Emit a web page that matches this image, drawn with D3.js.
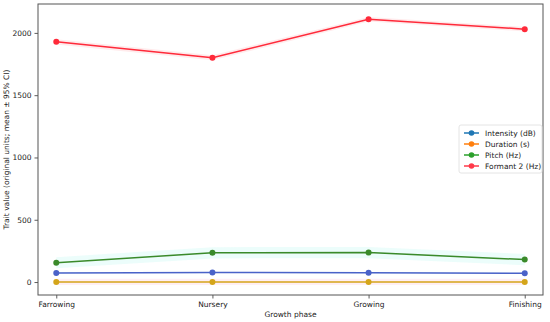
<!DOCTYPE html>
<html>
<head>
<meta charset="utf-8">
<script src="https://unpkg.com/d3@7/dist/d3.min.js"></script>
<style>
  body { margin: 0; background: #fff; }
  svg { font-family: "DejaVu Sans", sans-serif; }
</style>
</head>
<body>
<div id="chart"></div>
<script>
const phases = ["Farrowing", "Nursery", "Growing", "Finishing"];
const intensity = [72, 76, 75, 70];
const duration = [1, 1, 1, 1];
const pitch = [155, 235, 237, 180];
const formant2 = [1928, 1800, 2110, 2030];
const intensityCI = [4, 4, 4, 4];
const durationCI = [25, 25, 25, 25];
const pitchCI = [45, 45, 45, 45];
const formant2CI = [22, 20, 18, 18];
const yTicks = [0, 500, 1000, 1500, 2000];

const series = [
  {name: "Intensity (dB)", values: intensity, ci: intensityCI, line: "#4a62c8", legend: "#1f77b4", band: "#7fd6f0"},
  {name: "Duration (s)", values: duration, ci: durationCI, line: "#d4a51a", legend: "#ff7f0e", band: "#ffb0c8"},
  {name: "Pitch (Hz)", values: pitch, ci: pitchCI, line: "#3a8a2a", legend: "#2ca02c", band: "#9ff5ea"},
  {name: "Formant 2 (Hz)", values: formant2, ci: formant2CI, line: "#ff2a3a", legend: "#ff3a4a", band: "#ff9aa2"}
];

const W = 550, H = 322;
const margin = {top: 4, right: 7, bottom: 27, left: 38};
const width = W - margin.left - margin.right;
const height = H - margin.top - margin.bottom;

const svg = d3.select("#chart").append("svg")
  .attr("width", W).attr("height", H);
const g = svg.append("g").attr("transform", `translate(${margin.left},${margin.top})`);

const x = d3.scalePoint().domain(phases).range([0, width]).padding(0.117);
const y = d3.scaleLinear().domain([-104, 2232]).range([height, 0]);

// CI bands
series.forEach(s => {
  const area = d3.area()
    .x((d, i) => x(phases[i]))
    .y0((d, i) => y(d - s.ci[i]))
    .y1((d, i) => y(d + s.ci[i]));
  g.append("path").datum(s.values)
    .attr("d", area)
    .attr("fill", s.band)
    .attr("fill-opacity", 0.2);
});

// lines + markers
series.forEach(s => {
  const line = d3.line().x((d, i) => x(phases[i])).y(d => y(d));
  g.append("path").datum(s.values)
    .attr("d", line)
    .attr("fill", "none")
    .attr("stroke", s.line)
    .attr("stroke-width", 1.5);
  g.selectAll(null).data(s.values).join("circle")
    .attr("cx", (d, i) => x(phases[i]))
    .attr("cy", d => y(d))
    .attr("r", 3)
    .attr("fill", s.line);
});

// axes
const xAxis = g.append("g").attr("transform", `translate(0,${height})`)
  .call(d3.axisBottom(x).tickSize(3.5).tickPadding(3));
const yAxis = g.append("g")
  .call(d3.axisLeft(y).tickValues(yTicks).tickFormat(d3.format("d")).tickSize(3.5).tickPadding(3));
[xAxis, yAxis].forEach(a => {
  a.select(".domain").remove();
  a.selectAll("line").attr("stroke", "#333").attr("stroke-width", 0.8);
  a.selectAll("text").attr("font-size", 7.5).attr("fill", "#222")
    .attr("font-family", "DejaVu Sans, sans-serif");
});

// frame
g.append("rect").attr("width", width).attr("height", height)
  .attr("fill", "none").attr("stroke", "#555").attr("stroke-width", 1);

// labels
svg.append("text")
  .attr("x", margin.left + width / 2).attr("y", H - 5)
  .attr("text-anchor", "middle").attr("font-size", 7.5).attr("fill", "#222")
  .text("Growth phase");
svg.append("text")
  .attr("transform", `translate(9,${margin.top + height / 2}) rotate(-90)`)
  .attr("text-anchor", "middle").attr("font-size", 7.5).attr("fill", "#222")
  .text("Trait value (original units; mean ± 95% CI)");

// legend
const lg = g.append("g").attr("transform", `translate(${width - 84},${121})`);
lg.append("rect").attr("width", 83).attr("height", 48).attr("rx", 2)
  .attr("fill", "#fff").attr("fill-opacity", 0.8)
  .attr("stroke", "#ddd").attr("stroke-width", 0.8);
series.forEach((s, i) => {
  const row = lg.append("g").attr("transform", `translate(5,${8 + i * 11})`);
  row.append("line").attr("x1", 0).attr("x2", 15)
    .attr("stroke", s.legend).attr("stroke-width", 1.5);
  row.append("circle").attr("cx", 7.5).attr("r", 2.8).attr("fill", s.legend);
  row.append("text").attr("x", 21).attr("dy", "0.35em")
    .attr("font-size", 7.5).attr("fill", "#222").text(s.name);
});
</script>
</body>
</html>
